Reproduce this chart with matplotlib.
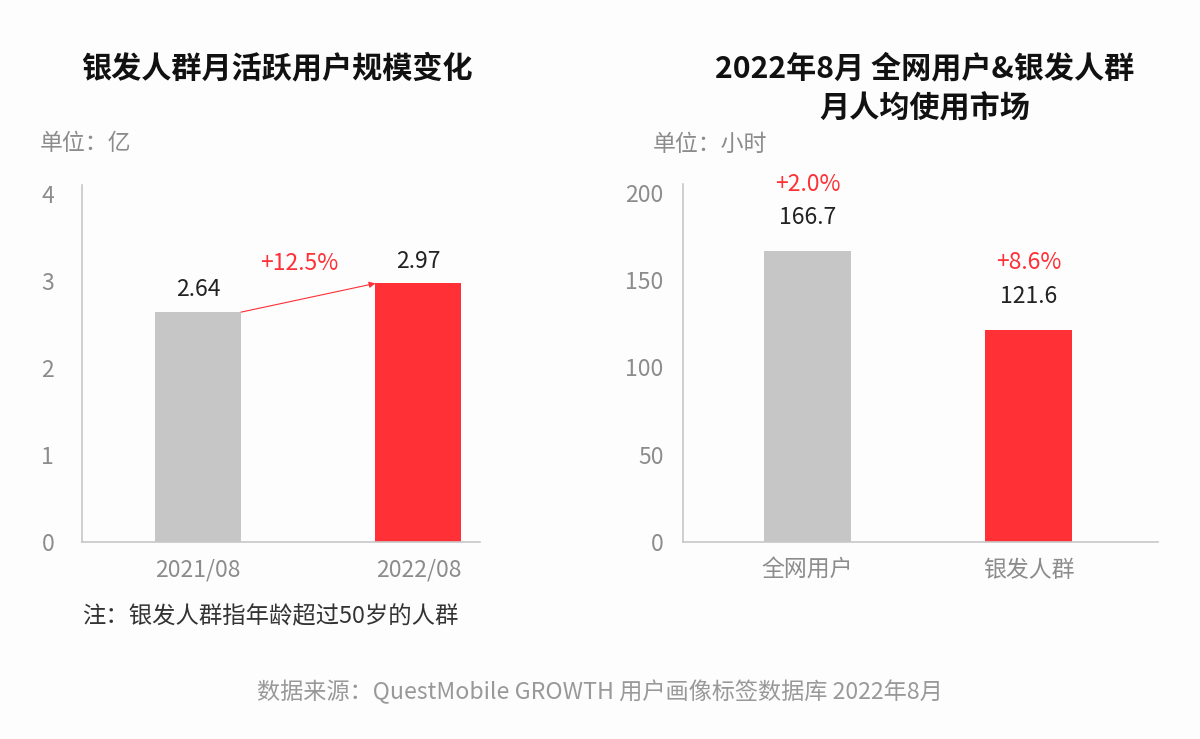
import matplotlib
matplotlib.use('Agg')
import matplotlib.pyplot as plt

plt.rcParams['font.family'] = ['Noto Sans CJK SC', 'DejaVu Sans']

# left chart: monthly active users of silver-haired group (100 million)
months = ['2021/08', '2022/08']
mau = [2.64, 2.97]
mau_growth = '+12.5%'

# right chart: average monthly usage hours
groups = ['全网用户', '银发人群']
hours = [166.7, 121.6]
hours_growth = ['+2.0%', '+8.6%']

gray = '#c6c6c6'
red = '#ff3036'
tick_col = '#8c8c8c'
spine_col = '#c8c8c8'
W, H = 1200, 739

fig = plt.figure(figsize=(12, 7.39), dpi=100, facecolor='#fdfdfd')


def px_axes(x0, y_top, x1, y_bot):
    return fig.add_axes([x0 / W, 1 - y_bot / H, (x1 - x0) / W, (y_bot - y_top) / H])


def style(ax, ypad):
    ax.set_facecolor('none')
    for s in ['top', 'right']:
        ax.spines[s].set_visible(False)
    for s in ['left', 'bottom']:
        ax.spines[s].set_color(spine_col)
        ax.spines[s].set_linewidth(1.2)
    ax.tick_params(axis='both', length=0, labelsize=16.5, labelcolor=tick_col)
    ax.tick_params(axis='y', pad=ypad)
    ax.tick_params(axis='x', pad=12)


# ---- left chart
ax1 = px_axes(82, 185, 480, 542)
x1 = [0, 1]
ax1.bar(x1, mau, width=0.39, color=[gray, red])
ax1.set_xlim(-0.527, 1.28)
ax1.set_ylim(0, 4.1)
ax1.set_yticks([0, 1, 2, 3, 4])
ax1.set_xticks(x1)
ax1.set_xticklabels(months)
style(ax1, 20)
for xi, v in zip(x1, mau):
    ax1.annotate(f'{v:.2f}', (xi, v), xytext=(0, 16), textcoords='offset points',
                 ha='center', va='center', fontsize=16.5, color='#222222')
ax1.annotate('', xy=(1 - 0.195, mau[1]), xytext=(0 + 0.195, mau[0]),
             arrowprops=dict(arrowstyle='-|>', color=red, lw=0.8, mutation_scale=9,
                             shrinkA=0, shrinkB=0))
ax1.text(0.46, 3.2, mau_growth, ha='center', va='center', fontsize=16.5, color=red)

# ---- right chart
ax2 = px_axes(683, 184, 1158, 542)
x2 = [0, 1]
ax2.bar(x2, hours, width=0.394, color=[gray, red])
ax2.set_xlim(-0.563, 1.586)
ax2.set_ylim(0, 205)
ax2.set_yticks([0, 50, 100, 150, 200])
ax2.set_xticks(x2)
ax2.set_xticklabels(groups)
style(ax2, 14)
for xi, v, g in zip(x2, hours, hours_growth):
    ax2.annotate(f'{v:.1f}', (xi, v), xytext=(0, 24), textcoords='offset points',
                 ha='center', va='center', fontsize=16.5, color='#222222')
    ax2.annotate(g, (xi, v), xytext=(0, 48), textcoords='offset points',
                 ha='center', va='center', fontsize=16.5, color=red)

# ---- titles and notes
fig.text(277 / W, 1 - 68 / H, '银发人群月活跃用户规模变化', ha='center', va='center',
         fontsize=21.7, fontweight='bold', color='#111111')
fig.text(925 / W, 1 - 68 / H, '2022年8月 全网用户&银发人群', ha='center', va='center',
         fontsize=21.7, fontweight='bold', color='#111111')
fig.text(925 / W, 1 - 108 / H, '月人均使用市场', ha='center', va='center',
         fontsize=21.7, fontweight='bold', color='#111111')
fig.text(40 / W, 1 - 144 / H, '单位：亿', ha='left', va='center', fontsize=16.5, color=tick_col)
fig.text(653 / W, 1 - 144 / H, '单位：小时', ha='left', va='center', fontsize=16.5, color=tick_col)
fig.text(82 / W, 1 - 617 / H, '注：银发人群指年龄超过50岁的人群', ha='left', va='center',
         fontsize=16.8, color='#333333')
fig.text(600 / W, 1 - 692 / H, '数据来源：QuestMobile GROWTH 用户画像标签数据库 2022年8月',
         ha='center', va='center', fontsize=16.7, color='#999999')

fig.savefig('out.png', dpi=100, facecolor=fig.get_facecolor())
